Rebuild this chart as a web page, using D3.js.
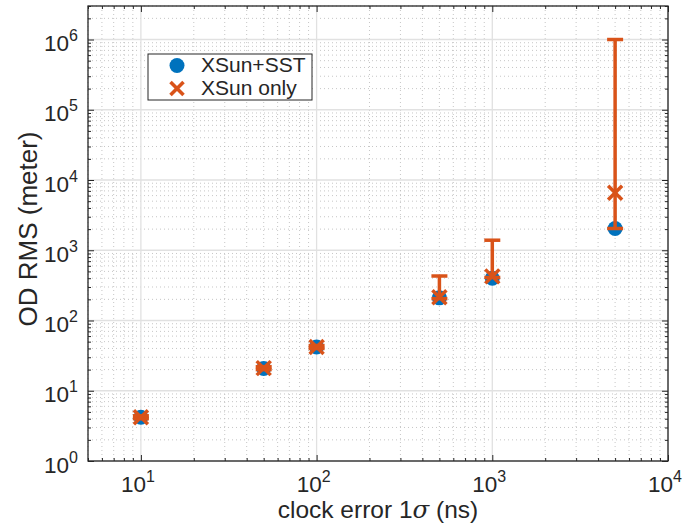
<!DOCTYPE html>
<html>
<head>
<meta charset="utf-8">
<script src="https://cdn.jsdelivr.net/npm/d3@7"></script>
<style>
  body { margin: 0; background: #fff; }
  text { font-family: "Liberation Sans", Arial, Helvetica, sans-serif; fill: #262626; }
</style>
</head>
<body>
<svg id="d" width="686" height="527"></svg>
<script>
(function (d3) {
  'use strict';

  // data
  const clockErrors = [10, 50, 100, 500, 1000, 5000];
  const rmsSst = [4.2, 20.8, 42, 210, 400, 2040];
  const rmsOnly = [4.2, 21, 42, 215, 425, 6600];
  const errLow = [4.0, 20, 40, 205, 410, 2040];
  const errHigh = [4.4, 22, 44, 430, 1390, 1000000];
  const xTickExps = [1, 2, 3, 4];
  const yTickExps = [0, 1, 2, 3, 4, 5, 6];
  const seriesNames = ['XSun+SST', 'XSun only'];

  const blue = '#0072BD';
  const orange = '#D95319';
  const axisColor = '#262626';

  const svg = d3.select('#d');
  const margin = { top: 6, right: 18, bottom: 66, left: 88 };
  const width = +svg.attr('width');
  const height = +svg.attr('height');
  const innerWidth = width - margin.left - margin.right;
  const innerHeight = height - margin.top - margin.bottom;

  const xScale = d3.scaleLog().domain([5, 1e4]).range([0, innerWidth]);
  const yScale = d3.scaleLog().domain([1, 3e6]).range([innerHeight, 0]);

  const minorOf = (scale) => {
    const [a, b] = scale.domain();
    const out = [];
    for (let e = Math.floor(Math.log10(a)); e <= Math.ceil(Math.log10(b)); e++) {
      for (let m = 2; m <= 9; m++) {
        const v = m * Math.pow(10, e);
        if (v >= a && v <= b) out.push(v);
      }
    }
    return out;
  };
  const xMajor = xTickExps.map(e => Math.pow(10, e));
  const yMajor = yTickExps.map(e => Math.pow(10, e));
  const xMinor = minorOf(xScale);
  const yMinor = minorOf(yScale);

  const g = svg.append('g')
    .attr('transform', `translate(${margin.left},${margin.top})`);

  // grid
  const grid = g.append('g');
  grid.selectAll('.xminor').data(xMinor).enter().append('line')
    .attr('x1', d => xScale(d)).attr('x2', d => xScale(d))
    .attr('y1', 0).attr('y2', innerHeight)
    .attr('stroke', '#b8b8b8').attr('stroke-width', 0.8).attr('stroke-dasharray', '1,3');
  grid.selectAll('.yminor').data(yMinor).enter().append('line')
    .attr('y1', d => yScale(d)).attr('y2', d => yScale(d))
    .attr('x1', 0).attr('x2', innerWidth)
    .attr('stroke', '#b8b8b8').attr('stroke-width', 0.8).attr('stroke-dasharray', '1,3');
  grid.selectAll('.xmajor').data(xMajor).enter().append('line')
    .attr('x1', d => xScale(d)).attr('x2', d => xScale(d))
    .attr('y1', 0).attr('y2', innerHeight)
    .attr('stroke', '#e1e1e1').attr('stroke-width', 1.3);
  grid.selectAll('.ymajor').data(yMajor).enter().append('line')
    .attr('y1', d => yScale(d)).attr('y2', d => yScale(d))
    .attr('x1', 0).attr('x2', innerWidth)
    .attr('stroke', '#e1e1e1').attr('stroke-width', 1.3);

  // axes (ticks inward, on all four sides)
  const styleAxis = sel => {
    sel.select('.domain').remove();
    sel.selectAll('.tick line').attr('stroke', axisColor).attr('stroke-width', 1);
    sel.selectAll('.tick text').remove();
  };
  const addAxis = (axis, tr) => g.append('g').attr('transform', tr).call(axis).call(styleAxis);

  addAxis(d3.axisBottom(xScale).tickValues(xMajor).tickSize(-6), `translate(0,${innerHeight})`);
  addAxis(d3.axisBottom(xScale).tickValues(xMinor).tickSize(-3), `translate(0,${innerHeight})`);
  addAxis(d3.axisTop(xScale).tickValues(xMajor).tickSize(-6), 'translate(0,0)');
  addAxis(d3.axisTop(xScale).tickValues(xMinor).tickSize(-3), 'translate(0,0)');
  addAxis(d3.axisLeft(yScale).tickValues(yMajor).tickSize(-6), 'translate(0,0)');
  addAxis(d3.axisLeft(yScale).tickValues(yMinor).tickSize(-3), 'translate(0,0)');
  addAxis(d3.axisRight(yScale).tickValues(yMajor).tickSize(-6), `translate(${innerWidth},0)`);
  addAxis(d3.axisRight(yScale).tickValues(yMinor).tickSize(-3), `translate(${innerWidth},0)`);

  g.append('rect')
    .attr('width', innerWidth).attr('height', innerHeight)
    .attr('fill', 'none').attr('stroke', axisColor).attr('stroke-width', 1.3);

  // tick labels 10^n
  const powLabel = (sel, e) => {
    sel.append('tspan').text('10');
    sel.append('tspan').attr('dy', -10).attr('font-size', 16).text(e);
  };
  g.selectAll('.xlab').data(xTickExps).enter().append('text')
    .attr('x', e => xScale(Math.pow(10, e)) - 3)
    .attr('y', innerHeight + 31)
    .attr('text-anchor', 'middle')
    .attr('font-size', 22.5)
    .each(function (e) { powLabel(d3.select(this), e); });
  g.selectAll('.ylab').data(yTickExps).enter().append('text')
    .attr('x', -10)
    .attr('y', e => yScale(Math.pow(10, e)) + 11.5)
    .attr('text-anchor', 'end')
    .attr('font-size', 22.5)
    .each(function (e) { powLabel(d3.select(this), e); });

  // axis titles
  const xt = svg.append('text')
    .attr('x', 378)
    .attr('y', 518)
    .attr('text-anchor', 'middle')
    .attr('font-size', 24.5);
  xt.append('tspan').text('clock error 1');
  xt.append('tspan').attr('font-family', '"DejaVu Serif", serif').attr('font-style', 'italic').text('σ');
  xt.append('tspan').text(' (ns)');

  svg.append('text')
    .attr('transform', 'translate(37,229) rotate(-90)')
    .attr('text-anchor', 'middle')
    .attr('font-size', 26)
    .text('OD RMS (meter)');

  // XSun+SST circles
  g.selectAll('.sst').data(clockErrors).enter().append('circle')
    .attr('cx', d => xScale(d))
    .attr('cy', (d, i) => yScale(rmsSst[i]))
    .attr('r', 7.5)
    .attr('fill', blue);

  // XSun only error bars and crosses
  const eb = g.append('g').attr('stroke', orange).attr('stroke-width', 3.5);
  clockErrors.forEach((x, i) => {
    const cx = xScale(x);
    const yl = yScale(errLow[i]);
    const yh = yScale(errHigh[i]);
    eb.append('line').attr('x1', cx).attr('x2', cx).attr('y1', yl).attr('y2', yh);
    eb.append('line').attr('x1', cx - 8).attr('x2', cx + 8).attr('y1', yl).attr('y2', yl);
    eb.append('line').attr('x1', cx - 8).attr('x2', cx + 8).attr('y1', yh).attr('y2', yh);
  });
  const cross = (sel, cx, cy, s) => {
    sel.append('line').attr('x1', cx - s).attr('y1', cy - s).attr('x2', cx + s).attr('y2', cy + s);
    sel.append('line').attr('x1', cx - s).attr('y1', cy + s).attr('x2', cx + s).attr('y2', cy - s);
  };
  const cr = g.append('g').attr('stroke', orange).attr('stroke-width', 3.5);
  clockErrors.forEach((x, i) => cross(cr, xScale(x), yScale(rmsOnly[i]), 7));

  // legend
  const lg = svg.append('g').attr('transform', 'translate(148,54)');
  lg.append('rect').attr('width', 164).attr('height', 46)
    .attr('fill', '#fff').attr('stroke', axisColor).attr('stroke-width', 1);
  lg.append('circle').attr('cx', 29).attr('cy', 11.5).attr('r', 7.5).attr('fill', blue);
  const lc = lg.append('g').attr('stroke', orange).attr('stroke-width', 3.5);
  cross(lc, 29, 34.5, 6.5);
  lg.selectAll('.lt').data(seriesNames).enter().append('text')
    .attr('x', 53)
    .attr('y', (d, i) => 18 + i * 23.3)
    .attr('font-size', 21)
    .attr('fill', '#000')
    .text(d => d);

}(d3));
</script>
</body>
</html>
